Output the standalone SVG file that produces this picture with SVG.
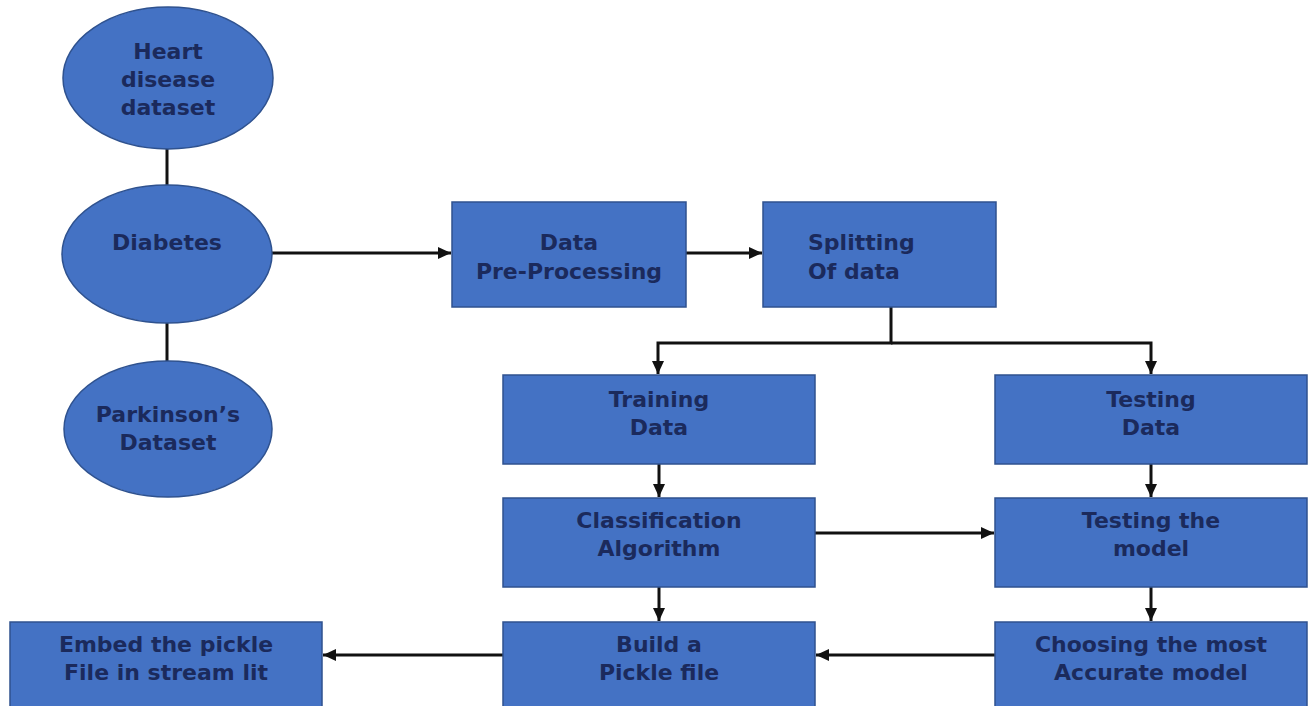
<svg xmlns="http://www.w3.org/2000/svg" width="1314" height="706" viewBox="0 0 1314 706">
<style>
.n{fill:#4472C4;stroke:#2F528F;stroke-width:1.5}
.t{font-family:"DejaVu Sans","Liberation Sans",sans-serif;font-weight:bold;font-size:22px;fill:#1B2A5C;text-anchor:middle}
.l{text-anchor:start}
.c{fill:none;stroke:#111;stroke-width:3}
</style>
<defs>
<marker id="ah" markerUnits="userSpaceOnUse" viewBox="0 0 13 12" refX="13" refY="6" markerWidth="13" markerHeight="12" orient="auto">
<path d="M0,0 L13,6 L0,12 z" fill="#111"/>
</marker>
</defs>
<rect width="1314" height="706" fill="#fff"/>
<g id="connectors">
<path class="c" d="M167,148 V185"/>
<path class="c" d="M167,323 V361"/>
<path class="c" d="M272,253 H451" marker-end="url(#ah)"/>
<path class="c" d="M686,253 H762" marker-end="url(#ah)"/>
<path class="c" d="M891,307 V343 H658 V374" marker-end="url(#ah)"/>
<path class="c" d="M891,343 H1151 V374" marker-end="url(#ah)"/>
<path class="c" d="M659,464 V497" marker-end="url(#ah)"/>
<path class="c" d="M1151,464 V497" marker-end="url(#ah)"/>
<path class="c" d="M815,533 H994" marker-end="url(#ah)"/>
<path class="c" d="M659,587 V621" marker-end="url(#ah)"/>
<path class="c" d="M1151,587 V621" marker-end="url(#ah)"/>
<path class="c" d="M995,655 H816" marker-end="url(#ah)"/>
<path class="c" d="M503,655 H323" marker-end="url(#ah)"/>
</g>
<g id="heart">
<ellipse class="n" cx="168" cy="78" rx="105" ry="71"/>
<text class="t" x="168" y="59">Heart</text>
<text class="t" x="168" y="87">disease</text>
<text class="t" x="168" y="115">dataset</text>
</g>
<g id="diabetes">
<ellipse class="n" cx="167" cy="254" rx="105" ry="69"/>
<text class="t" x="167" y="250">Diabetes</text>
</g>
<g id="parkinson">
<ellipse class="n" cx="168" cy="429" rx="104" ry="68"/>
<text class="t" x="168" y="422">Parkinson’s</text>
<text class="t" x="168" y="450">Dataset</text>
</g>
<g id="preprocessing">
<rect class="n" x="452" y="202" width="234" height="105"/>
<text class="t" x="569" y="250">Data</text>
<text class="t" x="569" y="279">Pre-Processing</text>
</g>
<g id="splitting">
<rect class="n" x="763" y="202" width="233" height="105"/>
<text class="t l" x="808" y="250">Splitting</text>
<text class="t l" x="808" y="279">Of data</text>
</g>
<g id="training">
<rect class="n" x="503" y="375" width="312" height="89"/>
<text class="t" x="659" y="407">Training</text>
<text class="t" x="659" y="435">Data</text>
</g>
<g id="testingdata">
<rect class="n" x="995" y="375" width="312" height="89"/>
<text class="t" x="1151" y="407">Testing</text>
<text class="t" x="1151" y="435">Data</text>
</g>
<g id="classification">
<rect class="n" x="503" y="498" width="312" height="89"/>
<text class="t" x="659" y="528">Classification</text>
<text class="t" x="659" y="556">Algorithm</text>
</g>
<g id="testingmodel">
<rect class="n" x="995" y="498" width="312" height="89"/>
<text class="t" x="1151" y="528">Testing the</text>
<text class="t" x="1151" y="556">model</text>
</g>
<g id="embed">
<rect class="n" x="10" y="622" width="312" height="90"/>
<text class="t" x="166" y="652">Embed the pickle</text>
<text class="t" x="166" y="680">File in stream lit</text>
</g>
<g id="pickle">
<rect class="n" x="503" y="622" width="312" height="90"/>
<text class="t" x="659" y="652">Build a</text>
<text class="t" x="659" y="680">Pickle file</text>
</g>
<g id="choosing">
<rect class="n" x="995" y="622" width="312" height="90"/>
<text class="t" x="1151" y="652">Choosing the most</text>
<text class="t" x="1151" y="680">Accurate model</text>
</g>
</svg>
